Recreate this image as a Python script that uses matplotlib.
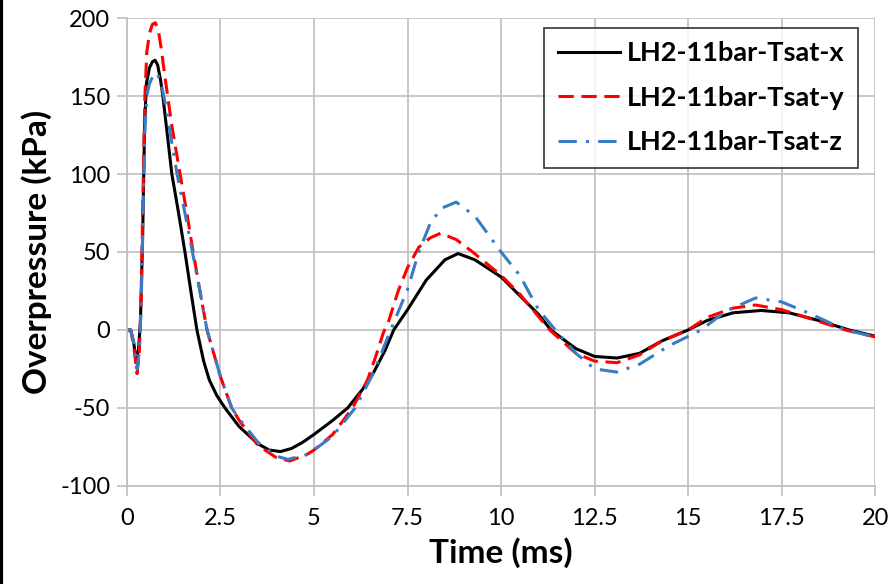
import matplotlib.pyplot as plt
from matplotlib.lines import Line2D

plt.rcParams['font.family'] = ['Lato', 'DejaVu Sans']
plt.rcParams['axes.unicode_minus'] = False

# LH2-11bar-Tsat-x (black, solid)
t_x = [0, 0.1, 0.18, 0.25, 0.31, 0.36, 0.42, 0.47, 0.52, 0.6, 0.68, 0.75, 0.82, 0.9, 0.96,
       1.08, 1.2, 1.38, 1.55, 1.72, 1.87, 2.05, 2.2, 2.4, 2.62, 3.0, 3.5, 3.8, 4.1, 4.4,
       4.7, 5.0, 5.5, 5.9, 6.3, 6.6, 6.9, 7.13, 7.5, 8.0, 8.5, 8.85, 9.3, 10.0, 10.5, 11.0,
       11.33, 12.0, 12.5, 13.1, 13.7, 14.3, 15.0, 15.5, 16.2, 16.95, 17.7, 18.5, 19.3, 20.0]
p_x = [0, 0, -8, -21, -12, 5, 60, 130, 158, 168, 172, 173, 170, 160, 150,
       125, 100, 75, 50, 23, 0, -20, -32, -42, -50, -62, -73, -77, -78, -76,
       -72, -67, -58, -50, -38, -27, -13, 0, 13, 32, 45, 49, 45, 34, 22, 10,
       0, -12, -17, -18, -15, -7, 0, 6, 11, 12.5, 11, 6, 0, -4]

# LH2-11bar-Tsat-y (red, dashed)
t_y = [0, 0.1, 0.18, 0.27, 0.33, 0.38, 0.43, 0.48, 0.53, 0.6, 0.68, 0.76, 0.84, 0.92, 1.0,
       1.2, 1.42, 1.6, 1.77, 1.95, 2.14, 2.5, 2.8, 3.0, 3.5, 4.0, 4.35, 4.8, 5.0, 5.5,
       6.03, 6.43, 6.65, 6.85, 7.0, 7.25, 7.5, 7.8, 8.1, 8.38, 8.8, 9.24, 10.0, 10.5, 11.3,
       12.0, 12.5, 13.1, 13.7, 14.3, 15.0, 15.5, 16.2, 16.8, 17.5, 18.3, 19.2, 20.0]
p_y = [0, 0, -10, -28, -15, 20, 90, 150, 178, 190, 196, 197, 192, 180, 165,
       131, 100, 75, 50, 25, 0, -30, -50, -58, -74, -82, -84, -80, -77, -67,
       -50, -32, -17, -2, 6, 25, 40, 53, 59, 62, 58, 50, 35, 23, 0,
       -15, -20, -21, -16, -7, 0, 8, 14, 16, 13, 7, 0, -4.5]

# LH2-11bar-Tsat-z (blue, dash-dot)
t_z = [0, 0.1, 0.18, 0.27, 0.33, 0.38, 0.43, 0.48, 0.53, 0.6, 0.7, 0.8, 0.88, 0.95, 1.05,
       1.2, 1.34, 1.55, 1.75, 1.95, 2.14, 2.5, 2.8, 3.0, 3.5, 4.0, 4.3, 4.8, 5.0, 5.5,
       6.1, 6.6, 7.05, 7.5, 7.8, 8.1, 8.4, 8.8, 9.3, 10.0, 10.5, 11.0, 11.45,
       12.0, 12.5, 13.1, 13.7, 14.5, 15.35, 16.0, 16.8, 17.5, 18.3, 19.2, 20.0]
p_z = [0, 0, -8, -25, -14, 15, 75, 128, 150, 158, 163, 165, 160, 154, 142,
       120, 100, 75, 50, 25, 0, -30, -50, -57, -72, -81, -83, -80, -77, -68,
       -50, -27, 0, 26, 50, 68, 78, 82, 73, 50, 35, 13, 0,
       -15, -25, -27, -22, -10, 0, 12, 20.5, 18, 10, 0, -4.5]

labels = ["LH2-11bar-Tsat-x", "LH2-11bar-Tsat-y", "LH2-11bar-Tsat-z"]

fig = plt.figure(figsize=(8.94, 5.84), dpi=100)
ax = fig.add_axes([0.142, 0.168, 0.837, 0.801])

ax.plot(t_x, p_x, color="black", lw=2.2, label=labels[0])
ax.plot(t_y, p_y, color="#FF0000", lw=2.2, linestyle=(0, (5, 2.5)), label=labels[1])
ax.plot(t_z, p_z, color="#3A7CC4", lw=2.2, linestyle=(0, (6, 3, 1, 3)), label=labels[2])

ax.set_xlim(0, 20)
ax.set_ylim(-100, 200)
ax.set_xticks([0, 2.5, 5, 7.5, 10, 12.5, 15, 17.5, 20])
ax.set_xticklabels(["0", "2.5", "5", "7.5", "10", "12.5", "15", "17.5", "20"])
ax.set_yticks([-100, -50, 0, 50, 100, 150, 200])

ax.grid(True, color="#BFBFBF", lw=1.2)
ax.set_axisbelow(True)
for s in ["top", "right"]:
    ax.spines[s].set_visible(False)
for s in ["left", "bottom"]:
    ax.spines[s].set_color("#BFBFBF")
    ax.spines[s].set_linewidth(1.2)
ax.tick_params(axis="both", direction="out", length=7, width=1.2, color="#BFBFBF",
               labelsize=17, labelcolor="black")
ax.tick_params(axis="x", pad=9)
ax.tick_params(axis="y", pad=5)

ax.set_xlabel("Time (ms)", fontsize=24, fontweight="bold", labelpad=6)
ax.set_ylabel("Overpressure (kPa)", fontsize=24, fontweight="bold", labelpad=6)

leg = ax.legend(loc="upper right", bbox_to_anchor=(0.977, 0.979),
                prop={"weight": "bold", "size": 19.5}, frameon=True, fancybox=False,
                handlelength=2.3, handletextpad=0.25, borderpad=0.5, labelspacing=0.75,
                borderaxespad=0)
leg.get_frame().set_edgecolor("black")
leg.get_frame().set_linewidth(1.2)

fig.add_artist(Line2D([0.0015, 0.0015], [0, 1], color="black", lw=3, transform=fig.transFigure))

fig.savefig("out.png", dpi=100)
